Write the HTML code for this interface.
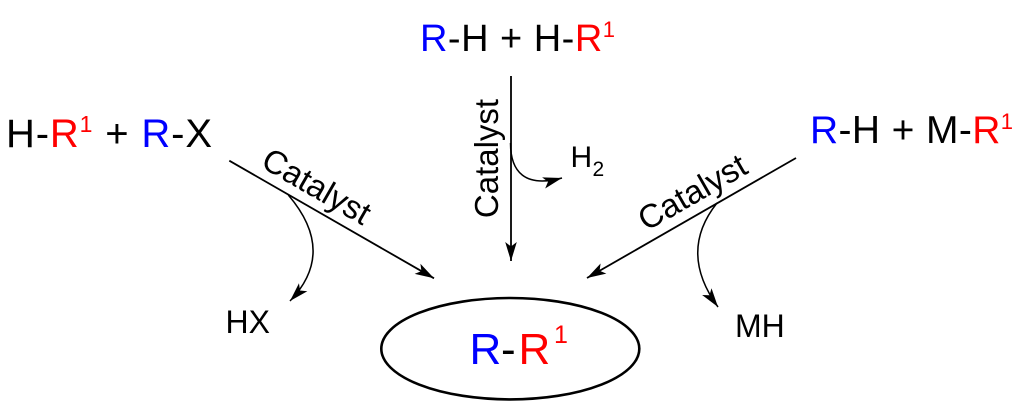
<!DOCTYPE html>
<html>
<head>
<meta charset="utf-8">
<style>
  html, body { margin: 0; padding: 0; background: #ffffff; }
  svg { display: block; }
  text { font-family: "Liberation Sans", Arial, sans-serif; white-space: pre; }
</style>
</head>
<body>
<svg width="1024" height="410" viewBox="0 0 1024 410" xmlns="http://www.w3.org/2000/svg">
  <defs>
    <marker id="ah" markerUnits="userSpaceOnUse" markerWidth="22" markerHeight="14" viewBox="0 0 22 14" refX="19" refY="7" orient="auto" overflow="visible">
      <path d="M0,1.2 L19,7 L0,12.8 L4.5,7 Z" fill="#000"/>
    </marker>
  </defs>
  <rect width="1024" height="410" fill="#fff"/>

  <!-- Left reactants: H-R1 + R-X -->
  <text x="6" y="147" font-size="40" fill="#000" textLength="206" lengthAdjust="spacing"><tspan>H-</tspan><tspan fill="#ff0000">R</tspan><tspan font-size="23" dy="-15" fill="#ff0000">1</tspan><tspan dy="15"> + </tspan><tspan fill="#0000ff">R</tspan><tspan>-X</tspan></text>

  <!-- Top reactants: R-H + H-R1 -->
  <text x="420" y="51" font-size="38" fill="#000" textLength="195" lengthAdjust="spacing"><tspan fill="#0000ff">R</tspan><tspan>-H + H-</tspan><tspan fill="#ff0000">R</tspan><tspan font-size="22" dy="-14" fill="#ff0000">1</tspan></text>

  <!-- Right reactants: R-H + M-R1 -->
  <text x="810" y="143" font-size="39" fill="#000" textLength="203" lengthAdjust="spacing"><tspan fill="#0000ff">R</tspan><tspan>-H + M-</tspan><tspan fill="#ff0000">R</tspan><tspan font-size="22" dy="-14" fill="#ff0000">1</tspan></text>

  <!-- Arrows -->
  <g stroke="#000" fill="none" stroke-width="1.8">
    <path d="M229.3,160.7 L434,278.3" marker-end="url(#ah)"/>
    <path d="M796,158 L587,278" marker-end="url(#ah)"/>
    <path d="M511,76 L511,261" marker-end="url(#ah)"/>
  </g>
  <g stroke="#000" fill="none" stroke-width="1.5">
    <path d="M510.5,143 C510.5,172 525,188 562,178" marker-end="url(#ah)"/>
    <path d="M288.3,195 Q337,252 290,301" marker-end="url(#ah)"/>
    <path d="M717,203 Q678,252 718,307" marker-end="url(#ah)"/>
  </g>

  <!-- Catalyst labels -->
  <g font-size="33" fill="#000" text-anchor="middle">
    <text transform="translate(311,196) rotate(29.88)">Catalyst</text>
    <text transform="translate(698,202) rotate(-29.86)">Catalyst</text>
    <text transform="translate(498,158.5) rotate(-90)">Catalyst</text>
  </g>

  <!-- Byproducts -->
  <text x="225.5" y="333" font-size="32" fill="#000">HX</text>
  <text x="735" y="337" font-size="32" fill="#000">MH</text>
  <text x="570.5" y="167" font-size="30" fill="#000">H</text>
  <text x="592.5" y="176" font-size="21" fill="#000">2</text>

  <!-- Product ellipse -->
  <ellipse cx="510.3" cy="348.7" rx="129" ry="50.7" fill="none" stroke="#000" stroke-width="2.6"/>
  <g font-size="44">
    <text x="469.5" y="364" fill="#0000ff">R</text>
    <text x="501" y="364" fill="#000">-</text>
    <text x="518.5" y="364" fill="#ff0000">R</text>
    <text x="554" y="343" font-size="25" fill="#ff0000">1</text>
  </g>
</svg>
</body>
</html>
